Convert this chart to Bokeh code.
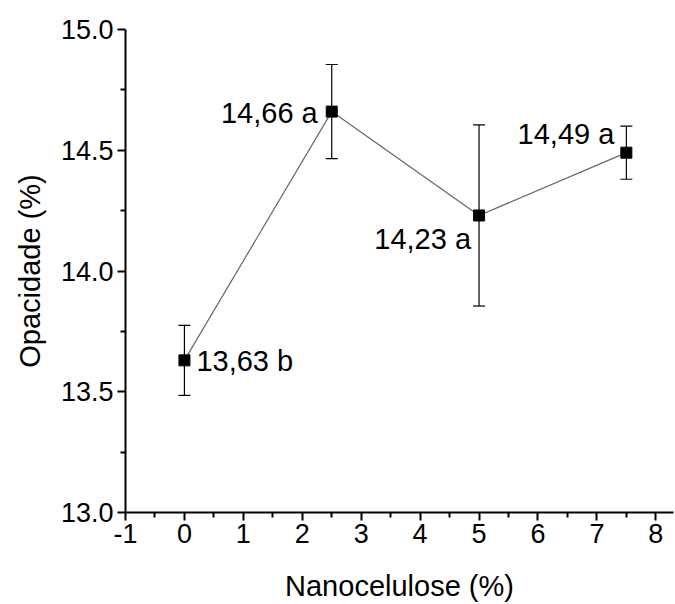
from bokeh.plotting import figure
from bokeh.models import FixedTicker, Range1d, Whisker, ColumnDataSource, CustomJSTickFormatter
from bokeh.core.properties import value
from bokeh.embed import file_html
from bokeh.resources import INLINE

nano = [0, 2.5, 5, 7.5]
opacidade = [13.63, 14.66, 14.23, 14.49]
erro = [0.145, 0.195, 0.375, 0.11]
rotulos = ["13,63 b", "14,66 a", "14,23 a", "14,49 a"]
y_ticks = [13.0, 13.5, 14.0, 14.5, 15.0]
x_ticks = [-1, 0, 1, 2, 3, 4, 5, 6, 7, 8]

FONT = "Liberation Sans"

p = figure(width=675, height=604, output_backend="svg", toolbar_location=None,
           x_range=Range1d(-1, 8.3), y_range=Range1d(13.0, 15.0),
           min_border_left=125, min_border_right=2, min_border_top=29, min_border_bottom=92)
p.outline_line_color = None
p.grid.visible = False
p.background_fill_color = "white"
p.border_fill_color = "white"

src = ColumnDataSource(dict(
    x=nano, y=opacidade,
    lo=[v - e for v, e in zip(opacidade, erro)],
    hi=[v + e for v, e in zip(opacidade, erro)],
    t=rotulos))

p.line("x", "y", source=src, line_color="#666666", line_width=1.2)
w = Whisker(base="x", lower="lo", upper="hi", source=src, line_color="black", line_width=1.2)
for h in (w.upper_head, w.lower_head):
    h.size = 12
    h.line_color = "black"
    h.line_width = 1.2
p.add_layout(w)
p.scatter("x", "y", source=src, marker="square", size=11, fill_color="black", line_color="black")

placements = [
    dict(x_offset=12, y_offset=1, text_align="left", text_baseline="middle"),
    dict(x_offset=-14, y_offset=1, text_align="right", text_baseline="middle"),
    dict(x_offset=-8, y_offset=8, text_align="right", text_baseline="top"),
    dict(x_offset=-12, y_offset=-3, text_align="right", text_baseline="bottom"),
]
for i, pl in enumerate(placements):
    p.text(x=[nano[i]], y=[opacidade[i]], text=[rotulos[i]], text_font=value(FONT),
           text_font_size="29px", text_color="black", **pl)

for ax in (p.xaxis[0], p.yaxis[0]):
    ax.axis_line_color = "black"
    ax.axis_line_width = 2
    ax.major_tick_line_color = "black"
    ax.major_tick_line_width = 2
    ax.minor_tick_line_color = "black"
    ax.minor_tick_line_width = 2
    ax.major_tick_in = 0
    ax.major_tick_out = 8
    ax.minor_tick_in = 0
    ax.minor_tick_out = 5
    ax.major_label_text_font = FONT
    ax.major_label_text_font_size = "27px"
    ax.major_label_text_color = "black"
    ax.axis_label_text_font = FONT
    ax.axis_label_text_font_size = "29px"
    ax.axis_label_text_font_style = "normal"
    ax.axis_label_text_color = "black"

p.yaxis[0].ticker = FixedTicker(ticks=y_ticks, minor_ticks=[13.25, 13.75, 14.25, 14.75])
p.yaxis[0].formatter = CustomJSTickFormatter(code="return tick.toFixed(1);")
p.yaxis[0].axis_label = "Opacidade (%)"
p.yaxis[0].major_label_standoff = 4
p.yaxis[0].axis_label_standoff = 12

p.xaxis[0].ticker = FixedTicker(ticks=x_ticks, minor_ticks=[-0.5 + k for k in range(10)])
p.xaxis[0].formatter = CustomJSTickFormatter(code="return tick.toString();")
p.xaxis[0].axis_label = "Nanocelulose (%)"
p.xaxis[0].major_label_standoff = 3
p.xaxis[0].axis_label_standoff = 24

open("out.html", "w").write(file_html(p, INLINE))
